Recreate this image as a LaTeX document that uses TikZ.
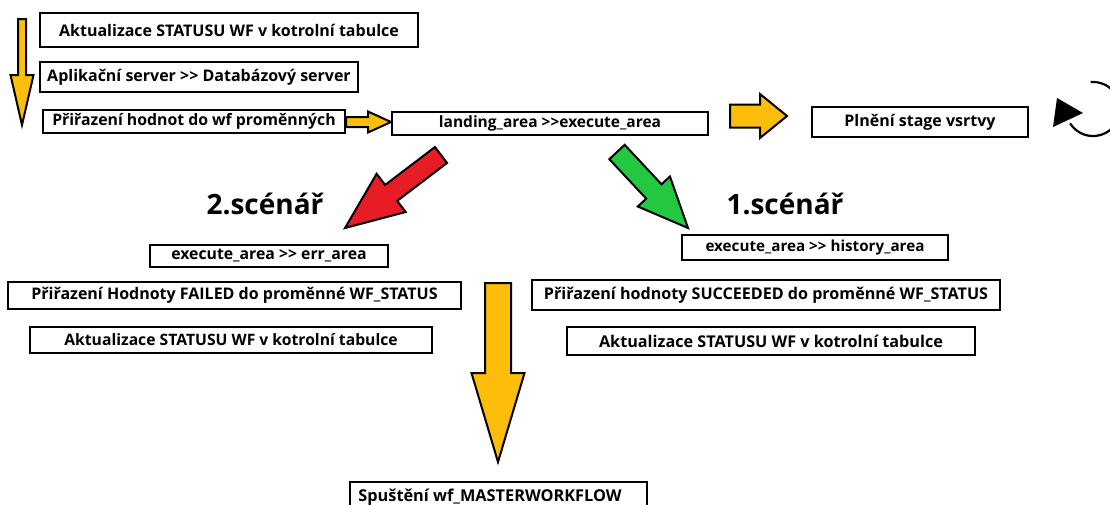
\documentclass[tikz,border=0pt]{standalone}
\usepackage{fontspec}
\setmainfont{Open Sans}
\usetikzlibrary{calc}

\definecolor{arrowyellow}{RGB}{252,190,10}
\definecolor{arrowred}{RGB}{232,28,36}
\definecolor{arrowgreen}{RGB}{36,200,64}

% block arrow: colour, from, to, shaft half width, head half width, head length
\newcommand{\blockarrow}[6]{%
  \coordinate (hb) at ($(#3)!#6!(#2)$);
  \draw[blockline, fill=#1]
    ($(#2)!#4!90:(#3)$) -- ($(hb)!#4!-90:(#2)$) -- ($(hb)!#5!-90:(#2)$)
    -- (#3) -- ($(hb)!#5!90:(#2)$) -- ($(hb)!#4!90:(#2)$)
    -- ($(#2)!#4!-90:(#3)$) -- cycle;
}

\begin{document}
\begin{tikzpicture}[x=1pt, y=-1pt,
    box/.style={draw, line width=2.6pt, inner sep=0pt, font=\bfseries\fontsize{#1}{#1}\selectfont},
    blockline/.style={draw=black, line width=2pt, line join=miter},
    scenario/.style={anchor=base, font=\bfseries\fontsize{28}{30}\selectfont}]
    \useasboundingbox (0,0) rectangle (1110,504);

    % start of the workflow
    \node[box=16, minimum width=378pt, minimum height=34pt] (aktTop) at (229,30) {Aktualizace STATUSU WF v kotrolní tabulce};
    \node[box=16, minimum width=318pt, minimum height=30pt] (server) at (199,77) {Aplikační server >{}> Databázový server};
    \node[box=15.8, minimum width=302pt, minimum height=23pt] (assign) at (194,121.5) {Přiřazení hodnot do wf proměnných};
    \node[box=15.5, minimum width=316pt, minimum height=23pt] (landing) at (550,123.5) {landing\_area >{}>execute\_area};
    \node[box=16, minimum width=216pt, minimum height=30pt] (stage) at (920,122) {Plnění stage vsrtvy};

    % the two scenarios
    \node[scenario] (scenTwo) at (265,214) {2.scénář};
    \node[scenario] (scenOne) at (785,214) {1.scénář};
    \node[box=15.8, minimum width=238pt, minimum height=22pt] (errArea) at (269,256) {execute\_area >{}> err\_area};
    \node[box=16, minimum width=453pt, minimum height=27pt] (failed) at (234.5,295.5) {Přiřazení Hodnoty FAILED do proměnné WF\_STATUS};
    \node[box=15.7, minimum width=402pt, minimum height=26pt] (aktLeft) at (231,340) {Aktualizace STATUSU WF v kotrolní tabulce};
    \node[box=15.2, minimum width=266pt, minimum height=25pt] (history) at (815,247.5) {execute\_area >{}> history\_area};
    \node[box=16.1, minimum width=468pt, minimum height=30pt] (succeeded) at (766,295) {Přiřazení hodnoty SUCCEEDED do proměnné WF\_STATUS};
    \node[box=16.2, minimum width=408pt, minimum height=28pt] (aktRight) at (771,341) {Aktualizace STATUSU WF v kotrolní tabulce};
    \node[box=16.3, minimum width=297pt, minimum height=30pt] (master) at (498.5,497) {Spuštění wf\_MASTERWORKFLOW\kern17pt};

    % arrows
    \coordinate (downS) at (22,19);
    \coordinate (downE) at (22,125);
    \coordinate (assignS) at (346,122);
    \coordinate (assignE) at (391,122);
    \coordinate (stageS) at (730,116);
    \coordinate (stageE) at (787,116);
    \coordinate (failS) at (441,155);
    \coordinate (failE) at (345,228);
    \coordinate (okS) at (617,152);
    \coordinate (okE) at (688,228);
    \coordinate (masterS) at (498,283);
    \coordinate (masterE) at (498,462);
    \blockarrow{arrowyellow}{downS}{downE}{4pt}{11.5pt}{50pt}
    \blockarrow{arrowyellow}{assignS}{assignE}{5pt}{10.5pt}{23pt}
    \blockarrow{arrowyellow}{stageS}{stageE}{11.5pt}{22pt}{27pt}
    \blockarrow{arrowred}{failS}{failE}{10pt}{24pt}{58pt}
    \blockarrow{arrowgreen}{okS}{okE}{10.5pt}{22pt}{50pt}
    \blockarrow{arrowyellow}{masterS}{masterE}{13pt}{26.5pt}{89pt}

    % loop sign
    \draw[line width=2.2pt] plot[domain=-95:148, samples=50, smooth] ({1093+27*cos(\x)}, {109+27*sin(\x)});
    \fill (1057,98) -- (1083,113) -- (1053,127) -- cycle;
\end{tikzpicture}
\end{document}
